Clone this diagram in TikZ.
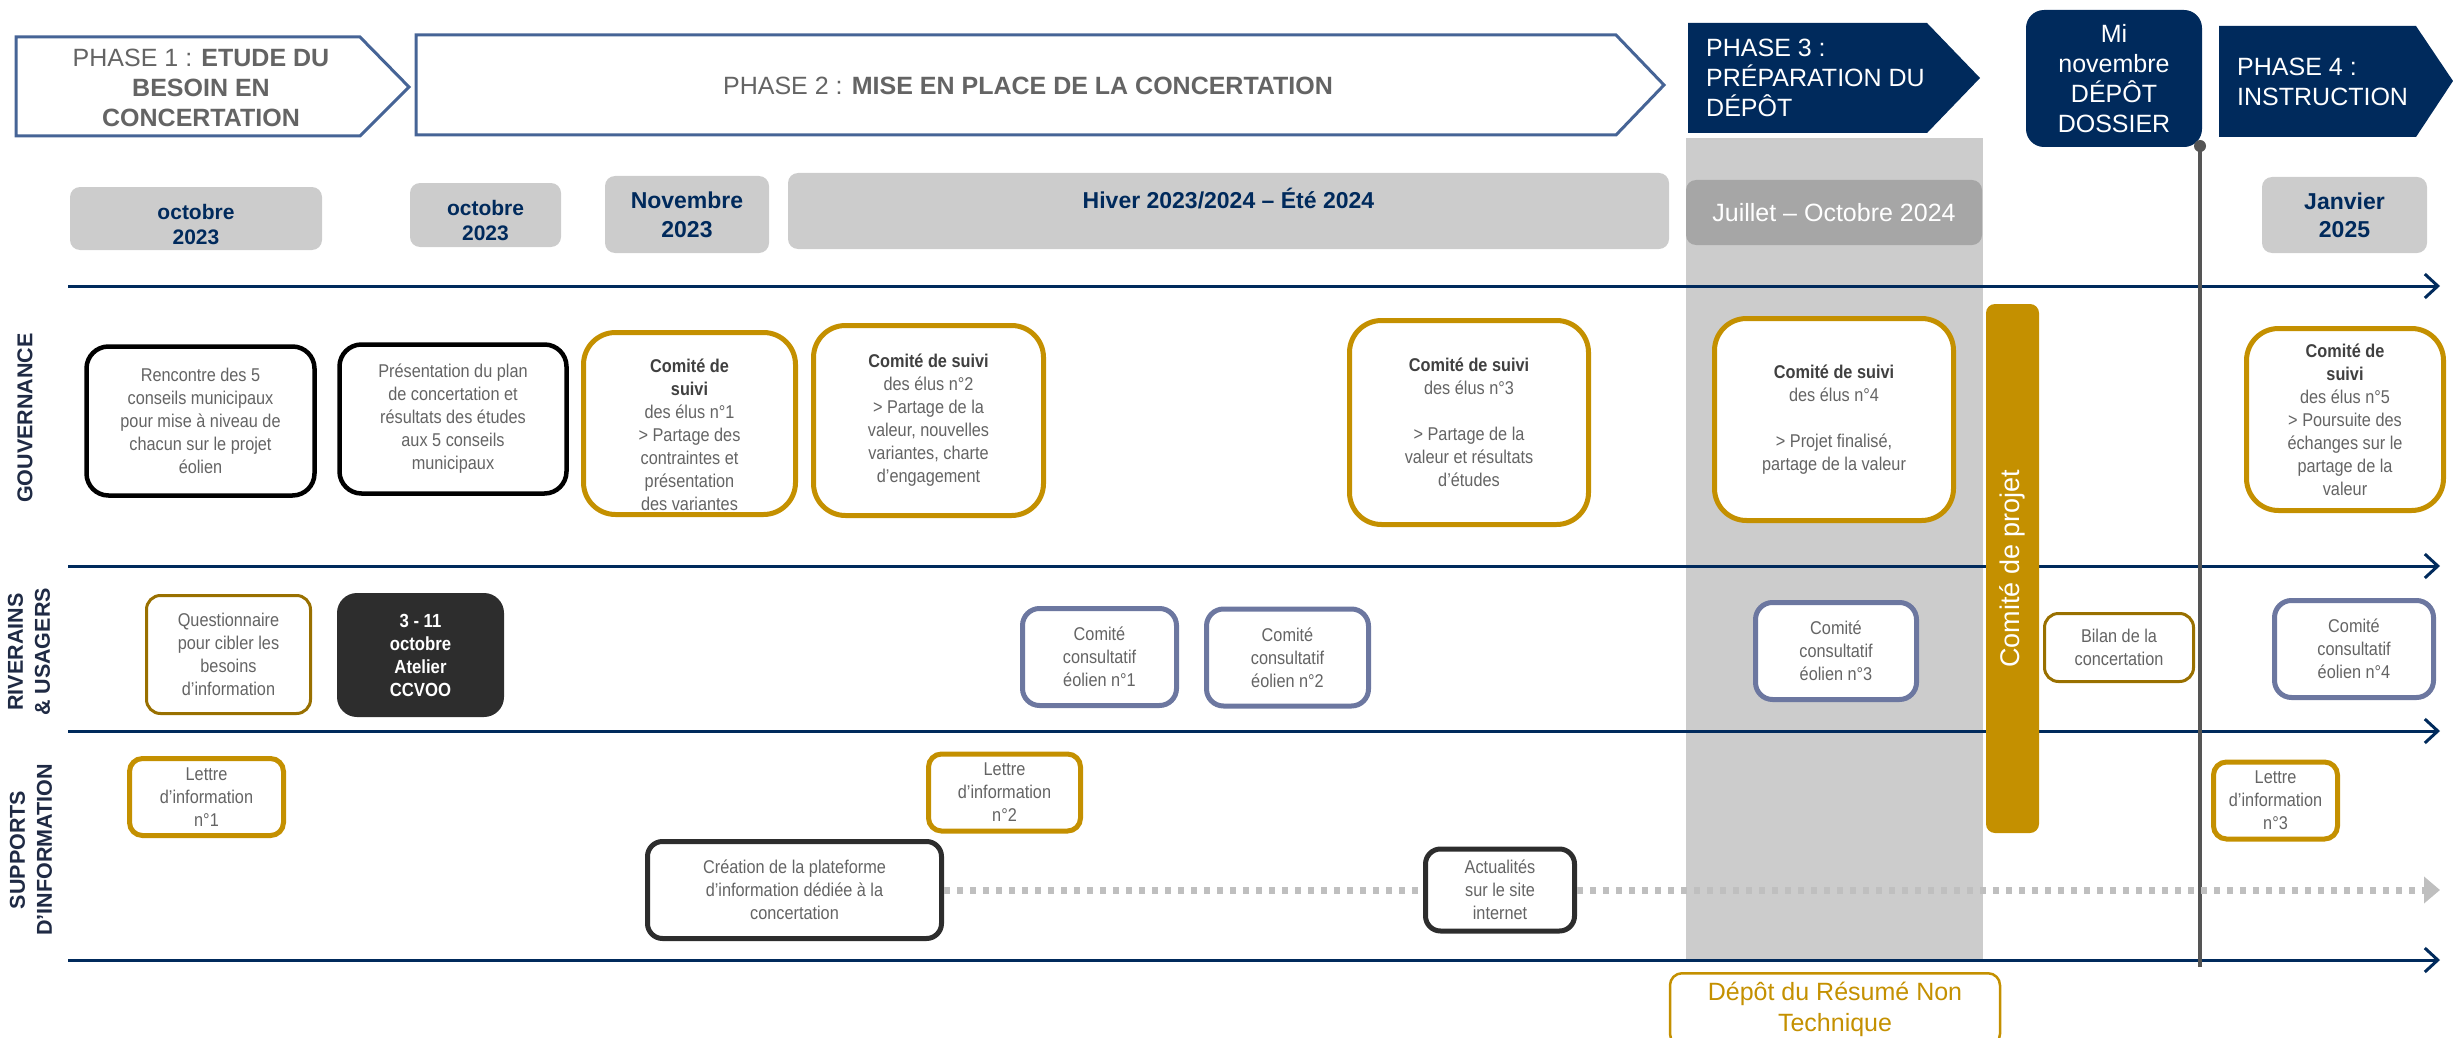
\documentclass[tikz,border=0pt]{standalone}
\usepackage{fontspec}
\setmainfont{Liberation Sans}
\newfontfamily\boxfont{Liberation Sans}[FakeStretch=0.88]
\usetikzlibrary{arrows.meta,positioning}

\definecolor{navy}{RGB}{0,42,92}
\definecolor{gold}{RGB}{196,144,0}
\definecolor{darkgold}{RGB}{153,112,0}
\definecolor{slate}{RGB}{108,119,160}
\definecolor{phaseline}{RGB}{70,100,150}
\definecolor{txtgray}{RGB}{100,100,100}
\definecolor{boldgray}{RGB}{64,64,64}
\definecolor{darkbox}{RGB}{45,45,45}
\definecolor{bandgray}{RGB}{204,204,204}
\definecolor{midgray}{RGB}{166,166,166}
\definecolor{lanecol}{RGB}{31,42,68}
\definecolor{dotgray}{RGB}{191,191,191}
\definecolor{depotline}{RGB}{85,85,85}

\newcommand{\csuivi}[1]{\textbf{\textcolor{boldgray}{#1}}}

\begin{document}
\begin{tikzpicture}[x=1pt, y=-1pt,
    txt/.style={font=\boxfont\fontsize{18.5}{23}\selectfont, text=txtgray, align=center, inner sep=0pt},
    gouv/.style={txt, draw=black, line width=4.5pt, rounded corners=22pt, fill=white},
    suivi/.style={txt, draw=gold, line width=5pt, rounded corners=32pt, fill=white},
    consult/.style={txt, draw=slate, line width=5pt, rounded corners=17pt, fill=white},
    lettre/.style={txt, draw=gold, line width=5pt, rounded corners=13pt, fill=white},
    fine/.style={txt, draw=darkgold, line width=3pt, rounded corners=14pt, fill=white},
    web/.style={txt, draw=darkbox, line width=5pt, rounded corners=15pt, fill=white},
    date/.style={fill=bandgray, rounded corners=10pt, align=center, text=navy, font=\bfseries\fontsize{21}{25}\selectfont, inner sep=0pt},
    phase/.style={font=\fontsize{25}{30}\selectfont, inner sep=0pt},
    lane/.style={rotate=90, align=center, text=lanecol, font=\bfseries\fontsize{21.5}{27}\selectfont},
    timeline/.style={draw=navy, line width=3pt, -{Straight Barb[length=13pt,width=24pt]}},
    dots/.style={draw=dotgray, line width=7pt, dash pattern=on 6pt off 7pt}
]
    \useasboundingbox (0,0) rectangle (2453,1038);

    % bande grise de la phase 3
    \fill[bandgray] (1686,138) rectangle (1983,960);

    % phases
    \draw[phaseline, line width=3pt, fill=white] (16,37) -- (360,37) -- (409,87) -- (360,136) -- (16,136) -- cycle;
    \draw[phaseline, line width=3pt, fill=white] (416,35) -- (1616,35) -- (1664,85) -- (1616,135) -- (416,135) -- cycle;
    \fill[navy] (1688,23) -- (1927,23) -- (1980,78) -- (1927,133) -- (1688,133) -- cycle;
    \fill[navy] (2219,26) -- (2416,26) -- (2453,81) -- (2416,137) -- (2219,137) -- cycle;
    \node[phase, text=txtgray, align=center] (p1) at (201,88) {PHASE 1 : \textbf{ETUDE DU}\\\textbf{BESOIN EN}\\\textbf{CONCERTATION}};
    \node[phase, text=txtgray] (p2) at (1028,86) {PHASE 2 : \textbf{MISE EN PLACE DE LA CONCERTATION}};
    \node[phase, text=white, align=left, anchor=west] (p3) at (1706,78) {PHASE 3 :\\PRÉPARATION DU\\DÉPÔT};
    \node[phase, text=white, align=left, anchor=west] (p4) at (2237,82) {PHASE 4 :\\INSTRUCTION};
    \node[phase, fill=navy, rounded corners=18pt, minimum width=176pt, minimum height=137pt, text=white, align=center] (mi) at (2114,78.5) {Mi\\novembre\\DÉPÔT\\DOSSIER};

    % dates
    \node[date, minimum width=252pt, minimum height=63pt, text height=53pt] (d1) at (196,218.5) {octobre\\2023};
    \node[date, minimum width=151pt, minimum height=64pt, text height=51pt] (d2) at (485.5,215) {octobre\\2023};
    \node[date, minimum width=164pt, minimum height=77pt, font=\bfseries\fontsize{23}{29}\selectfont] (d3) at (687,214.5) {Novembre\\2023};
    \node[date, minimum width=881pt, minimum height=76pt, font=\bfseries\fontsize{23}{28}\selectfont, text height=21pt, text depth=27pt] (d4) at (1228.5,211) {Hiver 2023/2024 – Été 2024};
    \node[date, fill=midgray, text=white, font=\fontsize{25}{30}\selectfont, minimum width=296pt, minimum height=65pt] (d5) at (1834,212.5) {Juillet – Octobre 2024};
    \node[date, minimum width=165pt, minimum height=76pt, font=\bfseries\fontsize{23}{28}\selectfont] (d6) at (2344.5,215) {Janvier\\2025};

    % lignes de temps
    \foreach \n/\y in {a/286, b/566, c/731, d/960} {
        \coordinate (l\n) at (68,\y);
        \coordinate (r\n) at (2440,\y);
        \draw[timeline] (l\n) -- (r\n);
    }

    % depot du dossier
    \coordinate (dtop) at (2200,146);
    \coordinate (dbot) at (2200,967);
    \draw[depotline, line width=4pt] (dtop) -- (dbot);
    \fill[depotline] (dtop) circle (6pt);

    \node[rotate=90, fill=gold, rounded corners=9pt, minimum width=529pt, minimum height=53pt, inner sep=0pt, text=white, font=\fontsize{27}{32}\selectfont] (cproj) at (2012.5,568.5) {Comité de projet};

    % gouvernance
    \node[gouv, minimum width=228pt, minimum height=149pt] (renc) at (200.5,421) {Rencontre des 5\\conseils municipaux\\pour mise à niveau de\\chacun sur le projet\\éolien};
    \node[gouv, minimum width=227pt, minimum height=149pt] (pres) at (453,419) {Présentation du plan\\de concertation et\\résultats des études\\aux 5 conseils\\municipaux};
    \node[suivi, minimum width=212pt, minimum height=182pt, text height=174pt] (cs1) at (689.5,423.5) {\csuivi{Comité de}\\\csuivi{suivi}\\des élus n°1\\> Partage des\\contraintes et\\présentation\\des variantes};
    \node[suivi, minimum width=230pt, minimum height=190pt] (cs2) at (928.5,420.5) {\csuivi{Comité de suivi}\\des élus n°2\\> Partage de la\\valeur, nouvelles\\variantes, charte\\d’engagement};
    \node[suivi, minimum width=239pt, minimum height=204pt] (cs3) at (1469,422.5) {\csuivi{Comité de suivi}\\des élus n°3\\[23pt]> Partage de la\\valeur et résultats\\d’études};
    \node[suivi, minimum width=239pt, minimum height=202pt] (cs4) at (1834,419.5) {\csuivi{Comité de suivi}\\des élus n°4\\[23pt]> Projet finalisé,\\partage de la valeur};
    \node[suivi, minimum width=197pt, minimum height=182pt] (cs5) at (2345,419.5) {\csuivi{Comité de}\\\csuivi{suivi}\\des élus n°5\\> Poursuite des\\échanges sur le\\partage de la\\valeur};

    % riverains et usagers
    \node[fine, minimum width=164pt, minimum height=118pt] (quest) at (228.5,654.5) {Questionnaire\\pour cibler les\\besoins\\d’information};
    \node[txt, fill=darkbox, rounded corners=20pt, text=white, font=\bfseries\boxfont\fontsize{19}{23}\selectfont, minimum width=167pt, minimum height=124pt] (atel) at (420.5,655) {3 - 11\\octobre\\Atelier\\CCVOO};
    \foreach \n/\x/\y/\w/\num in {c1/1099.5/657/154pt/1, c2/1287.5/657.5/162pt/2, c3/1836/651/161pt/3, c4/2354/649/159pt/4}
        \node[consult, minimum width=\w, minimum height=97pt] (\n) at (\x,\y) {Comité\\consultatif\\éolien n°\num};
    \node[fine, minimum width=149pt, minimum height=68pt] (bilan) at (2119,647.5) {Bilan de la\\concertation};

    % supports d'information
    \foreach \n/\x/\y/\w/\num in {l1/206.5/797/154pt/1, l2/1004.5/792.5/152pt/2, l3/2275.5/800.5/124pt/3}
        \node[lettre, minimum width=\w, minimum height=77pt] (\n) at (\x,\y) {Lettre\\d’information\\n°\num};
    \node[web, minimum width=294pt, minimum height=97pt] (plat) at (794.5,890) {Création de la plateforme\\d’information dédiée à la\\concertation};
    \node[web, minimum width=149pt, minimum height=82pt] (actu) at (1500,890) {Actualités\\sur le site\\internet};
    \coordinate (fin) at (2440,890);
    \draw[dots] (plat.east) -- (actu.west);
    \draw[dots, -{Triangle[length=16pt,width=26pt]}] (actu.east) -- (fin);

    % voies
    \node[lane] (gouvl) at (25,418) {GOUVERNANCE};
    \node[lane] (riv) at (29,652) {RIVERAINS\\\& USAGERS};
    \node[lane] (supp) at (31,850) {SUPPORTS\\D’INFORMATION};

    \node[draw=gold, line width=2.5pt, rounded corners=12pt, text=gold, font=\fontsize{25}{31}\selectfont, align=center, anchor=north, minimum width=330pt, inner ysep=9pt] (rnt) at (1835,972) {Dépôt du Résumé Non\\Technique};
\end{tikzpicture}
\end{document}
